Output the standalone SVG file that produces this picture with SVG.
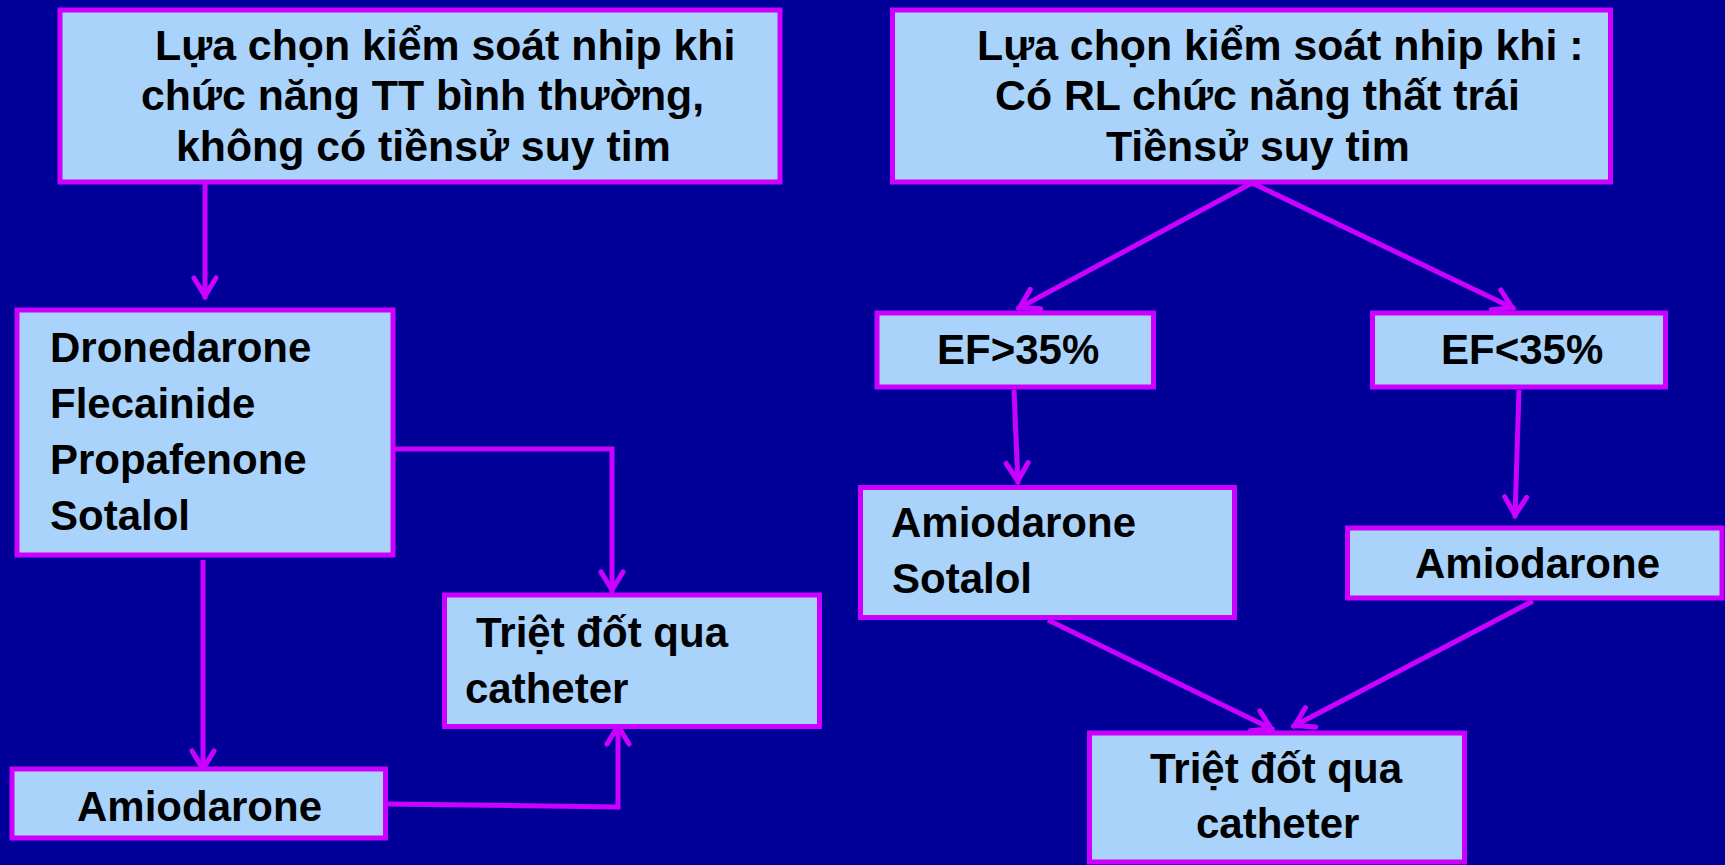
<svg xmlns="http://www.w3.org/2000/svg" width="1725" height="865" viewBox="0 0 1725 865">
<defs>
<style>
.box{fill:#A9D3FB;stroke:#CC00FF;stroke-width:5}
.t{font-family:"Liberation Sans",Arial,sans-serif;font-weight:bold;font-size:42px;fill:#000}
.h{font-size:42.8px}
.c{fill:none;stroke:#CC00FF;stroke-width:5;stroke-linejoin:miter;marker-end:url(#arr)}
</style>
<marker id="arr" markerUnits="userSpaceOnUse" orient="auto" refX="0" refY="0" markerWidth="40" markerHeight="40" viewBox="-30 -20 40 40" overflow="visible">
<path d="M-21,-11 L-3,0 L-21,11" fill="none" stroke="#CC00FF" stroke-width="5" stroke-linecap="round" stroke-linejoin="miter"/>
</marker>
</defs>
<rect width="1725" height="865" fill="#000099"/>
<g id="connectors">
<path class="c" d="M205,183 L205,299"/>
<path class="c" d="M203,560 L203,772"/>
<path class="c" d="M388,449 L612,449 L612,593"/>
<path class="c" d="M388,804 L618,807 L618,723"/>
<path class="c" d="M1252,183 L1017,309"/>
<path class="c" d="M1252,183 L1515,309"/>
<path class="c" d="M1014,390 L1018,484"/>
<path class="c" d="M1519,390 L1515,518"/>
<path class="c" d="M1048,620 L1274,730"/>
<path class="c" d="M1533,601 L1292,727"/>
</g>
<g id="nodeA">
<rect class="box" x="60" y="10" width="720" height="172"/>
<text class="t h" x="155" y="60">Lựa chọn kiểm soát nhip khi</text>
<text class="t h" x="141" y="110">chức năng TT bình thường,</text>
<text class="t h" x="176" y="161">không có tiềnsử suy tim</text>
</g>
<g id="nodeB">
<rect class="box" x="892.5" y="10" width="718" height="172"/>
<text class="t h" x="977" y="60">Lựa chọn kiểm soát nhip khi :</text>
<text class="t h" x="995" y="110">Có RL chức năng thất trái</text>
<text class="t h" x="1106" y="161">Tiềnsử suy tim</text>
</g>
<g id="nodeC">
<rect class="box" x="17" y="310" width="376" height="245"/>
<text class="t" x="50" y="362">Dronedarone</text>
<text class="t" x="50" y="418">Flecainide</text>
<text class="t" x="50" y="474">Propafenone</text>
<text class="t" x="50" y="530">Sotalol</text>
</g>
<g id="nodeD">
<rect class="box" x="444.5" y="595" width="375" height="131.5"/>
<text class="t" x="476" y="647">Triệt đốt qua</text>
<text class="t" x="465" y="703">catheter</text>
</g>
<g id="nodeE">
<rect class="box" x="12" y="769" width="373.5" height="69"/>
<text class="t" x="77" y="821">Amiodarone</text>
</g>
<g id="nodeF">
<rect class="box" x="877" y="313" width="276.5" height="74"/>
<text class="t" x="937" y="364">EF&gt;35%</text>
</g>
<g id="nodeG">
<rect class="box" x="1372.5" y="313" width="293" height="74"/>
<text class="t" x="1441" y="364">EF&lt;35%</text>
</g>
<g id="nodeH">
<rect class="box" x="860.5" y="487.5" width="374" height="130"/>
<text class="t" x="891" y="537">Amiodarone</text>
<text class="t" x="892" y="593">Sotalol</text>
</g>
<g id="nodeI">
<rect class="box" x="1347.5" y="528" width="374.5" height="70"/>
<text class="t" x="1415" y="578">Amiodarone</text>
</g>
<g id="nodeJ">
<rect class="box" x="1089.5" y="733" width="375" height="129"/>
<text class="t" x="1150" y="783">Triệt đốt qua</text>
<text class="t" x="1196" y="838">catheter</text>
</g>
</svg>
